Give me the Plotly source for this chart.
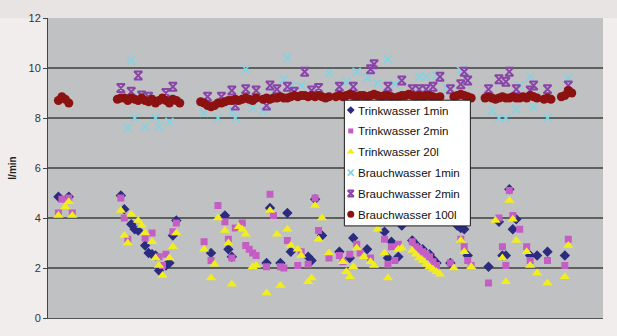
import plotly.graph_objects as go

# Messpunkte (laufende Nummer) und Durchfluss in l/min je Messreihe
t1_x = [3, 6,
        21, 22, 24, 25, 26, 28, 29, 30, 31, 32, 34, 35, 36, 37,
        47, 51, 52, 53, 63, 64, 67, 69, 70, 75, 76, 77, 79, 84, 87, 88, 92, 97, 98, 99, 101, 102,
        105, 106, 108, 110, 111, 112,
        116, 118, 119, 120, 121,
        127, 130, 131, 132, 133, 134, 135, 139, 141, 144, 149]
t1_y = [4.85, 4.85,
        4.9, 4.35, 3.75, 3.55, 3.5, 2.9, 2.6, 2.55, 2.5, 1.9, 2.1, 2.2, 3.3, 3.9,
        2.6, 4.1, 2.75, 2.45, 2.2, 4.4, 2.2, 4.2, 2.65, 2.45, 2.3, 4.75, 3.3, 2.65, 2.4, 3.2, 2.75, 3.45, 2.4, 3.05, 2.45, 3.7,
        3.1, 2.95, 2.75, 2.55, 2.35, 2.2,
        2.2, 3.7, 3.6, 3.55, 2.5,
        2.05, 3.85, 2.5, 2.5, 5.15, 3.55, 3.95, 2.5, 2.5, 2.65, 2.5]

t2_x = [3, 4, 6, 7,
        21, 22, 23, 28, 30, 32, 33, 34, 36, 37,
        45, 47, 49, 51, 52, 53, 54, 56, 57, 58, 59, 60,
        63, 64, 65, 67, 68, 69, 72, 73, 75, 77, 78, 81,
        84, 85, 87, 89, 90, 93, 97, 98, 99, 100, 101,
        105, 106, 107, 108, 109, 110, 111, 112,
        116, 119, 120, 121, 122,
        127, 130, 131, 132, 133, 134, 136, 138, 139, 144, 149, 150]
t2_y = [4.2, 4.75, 4.8, 4.2,
        4.8, 4.0, 3.15, 3.2, 3.4, 2.45, 2.1, 2.55, 3.45, 3.8,
        3.05, 2.3, 4.5, 3.85, 3.15, 2.4, 3.6, 3.8, 2.9, 2.75, 2.6, 2.5,
        2.05, 4.95, 4.1, 2.05, 2.0, 3.1, 2.1, 2.65, 2.15, 4.8, 3.5, 2.4,
        2.5, 2.25, 2.55, 2.95, 2.6, 2.4, 3.15, 2.15, 2.85, 2.3, 2.95,
        3.05, 2.85, 2.75, 2.65, 2.55, 2.45, 2.25, 2.1,
        2.2, 3.15, 2.85, 2.3, 2.1,
        1.4, 4.0, 2.85, 2.1, 5.1, 4.1, 3.55, 2.85, 2.3, 2.3, 2.1, 3.15]

t20_x = [3, 5, 6, 7,
         21, 22, 23, 24, 26, 27, 28, 30, 31, 32, 33, 35, 36, 37,
         45, 47, 48, 49, 51, 52, 53, 55, 56, 57, 59, 60,
         63, 64, 66, 67, 69, 70, 72, 73, 75, 76, 77, 78, 79, 81,
         85, 86, 87, 88, 89, 91, 93, 94, 95, 97, 98, 101, 102,
         105, 106, 107, 108, 109, 110, 111, 112, 113,
         117, 119, 120, 122,
         129, 131, 132, 133, 134, 135, 138, 139, 141, 144, 149, 150]
t20_y = [4.1, 4.45, 4.65, 4.1,
         4.3, 3.3, 3.0, 4.15, 3.9, 3.7, 3.4, 3.05, 2.4, 2.1, 1.7, 2.4, 2.85, 3.4,
         2.75, 1.6, 2.15, 4.0, 3.5, 3.0, 1.35, 3.65, 3.55, 3.35, 2.05, 2.1,
         1.0, 4.3, 3.35, 1.3, 3.55, 2.9, 2.75, 2.5, 1.45, 1.6, 4.5, 3.15, 4.0, 2.6,
         2.25, 1.85, 1.65, 2.05, 2.8, 2.45, 2.25, 2.1, 3.55, 2.6, 1.6, 2.75, 2.8,
         2.7, 2.55, 2.4, 2.3, 2.15, 2.05, 1.95, 1.85, 1.75,
         2.0, 3.1, 2.65, 2.05,
         3.9, 2.4, 1.45, 4.7, 3.95, 3.1, 2.65, 2.1, 1.8, 1.4, 1.65, 2.9]

b1_x = [23, 24, 25, 28, 31, 32, 35,
        22, 27, 30, 34, 37,
        45, 49, 53, 54, 57, 59, 63, 62,
        69, 68, 70, 73, 81, 84, 86, 89, 92, 95,
        98, 107, 109, 112, 119, 121,
        128, 130, 132, 135, 139, 140, 144, 150,
        65, 76, 100, 115, 136]
b1_y = [7.6, 10.3, 8.0, 7.65, 8.0, 7.65, 7.85,
        8.8, 8.85, 8.75, 8.8, 8.7,
        8.2, 8.0, 8.3, 8.0, 9.95, 8.4, 8.45, 8.3,
        10.4, 9.55, 9.3, 9.3, 9.8, 9.25, 9.45, 9.85, 9.6, 9.4,
        10.35, 9.65, 9.65, 9.7, 9.9, 9.5,
        8.3, 8.0, 8.0, 8.35, 9.65, 8.45, 8.0, 9.6,
        9.0, 9.1, 9.35, 9.2, 9.3]

b2_x = [21, 24, 26, 27, 29, 34, 36,
        46, 50, 53, 54, 57, 60,
        63, 64, 66, 69, 71, 74, 76, 78, 84, 88,
        93, 94, 98, 102, 105, 107, 109, 111, 113, 116, 119, 120, 121,
        127, 130, 132, 133, 135, 139, 140, 144, 150]
b2_y = [9.2, 9.05, 9.7, 8.9, 8.85, 9.0, 9.25,
        8.85, 8.85, 9.1, 8.5, 9.15, 9.1,
        8.5, 9.3, 9.15, 9.25, 9.05, 9.85, 9.1, 9.2, 9.25, 9.25,
        9.95, 10.15, 9.25, 9.5, 9.15, 9.15, 9.15, 9.25, 9.65, 9.15, 9.35, 9.85, 9.5,
        9.15, 9.55, 9.45, 9.85, 9.15, 9.1, 9.3, 9.15, 9.3]

b100_x = (list(range(3, 7)) + list(range(20, 39)) + list(range(44, 61)) + list(range(62, 82))
          + list(range(83, 114)) + list(range(117, 123)) + list(range(126, 142))
          + list(range(143, 146)) + list(range(148, 152)))
b100_y = ([8.7, 8.85, 8.75, 8.6]
          + [8.75, 8.8, 8.8, 8.7, 8.8, 8.75, 8.7, 8.8, 8.7, 8.65, 8.75, 8.6, 8.7, 8.8, 8.7, 8.6, 8.75, 8.7, 8.6]
          + [8.65, 8.6, 8.5, 8.45, 8.5, 8.6, 8.6, 8.65, 8.7, 8.7, 8.75, 8.7, 8.75, 8.8, 8.75, 8.7, 8.8]
          + [8.75, 8.8, 8.75, 8.8, 8.8, 8.85, 8.8, 8.8, 8.85, 8.9, 8.85, 8.9, 8.9, 8.85, 8.9, 8.85, 8.9, 8.85, 8.8, 8.85]
          + [8.85, 8.9, 8.85, 8.9, 8.95, 8.9, 8.85, 8.9, 8.9, 8.85, 8.9, 8.95, 8.9, 8.85, 8.9, 8.9,
             8.85, 8.8, 8.85, 8.9, 8.9, 8.95, 8.9, 8.85, 8.9, 8.85, 8.9, 8.9, 8.85, 8.8, 8.85]
          + [8.85, 8.9, 8.95, 8.9, 8.85, 8.8]
          + [8.8, 8.85, 8.8, 8.75, 8.8, 8.85, 8.8, 8.8, 8.85, 8.8, 8.8, 8.85, 8.8, 8.9, 8.85, 8.8]
          + [8.75, 8.8, 8.75]
          + [8.85, 8.9, 9.1, 9.0])

y_ticks = [0, 2, 4, 6, 8, 10, 12]
grid_values = [2, 4, 6, 8, 10]

NAVY, PINK, YELLOW = "#2b2b80", "#c45ec4", "#f2ee1e"
CYAN, PURPLE, MAROON = "#7fd4e4", "#8a44a8", "#8c1212"

series = [
    ("Trinkwasser 1min", t1_x, t1_y, dict(symbol="diamond", color=NAVY), 8),
    ("Trinkwasser 2min", t2_x, t2_y, dict(symbol="square", color=PINK), 7),
    ("Trinkwasser 20l", t20_x, t20_y, dict(symbol="triangle-up", color=YELLOW), 9),
    ("Brauchwasser 1min", b1_x, b1_y,
     dict(symbol="x-thin-open", color=CYAN, line=dict(width=1.7, color=CYAN)), 8),
    ("Brauchwasser 2min", b2_x, b2_y,
     dict(symbol="hourglass-open", color=PURPLE, line=dict(width=1.8, color=PURPLE)), 8),
    ("Brauchwasser 100l", b100_x, b100_y, dict(symbol="circle", color=MAROON), 9),
]

fig = go.Figure()
for name, xs, ys, marker, size in series:
    fig.add_trace(go.Scatter(x=xs, y=ys, mode="markers", name=name,
                             marker=dict(marker, size=size), showlegend=False))

for g in grid_values:
    fig.add_shape(type="line", xref="paper", yref="y", x0=0, x1=1, y0=g, y1=g,
                  line=dict(color="#3c3c3c", width=1.6), layer="below")

# Legend box drawn on an overlay axis spanning the plot area (0..1 in both directions)
box_left, box_right, box_top, box_bottom = 0.534, 0.761, 0.726, 0.307
first_row, row_step = 0.693, 0.0695
sym_x, text_x = 0.5455, 0.5555

fig.add_trace(go.Scatter(
    x=[box_left, box_right, box_right, box_left, box_left],
    y=[box_bottom, box_bottom, box_top, box_top, box_bottom],
    xaxis="x2", yaxis="y2", mode="lines", fill="toself", fillcolor="#ffffff",
    line=dict(color="#1a1a1a", width=1), hoverinfo="skip", showlegend=False))

for i, (name, xs, ys, marker, size) in enumerate(series):
    row_y = first_row - i * row_step
    fig.add_trace(go.Scatter(
        x=[sym_x], y=[row_y], xaxis="x2", yaxis="y2", mode="markers",
        marker=dict(marker, size=max(size - 2, 5)), hoverinfo="skip", showlegend=False))
    fig.add_annotation(x=text_x, y=row_y, xref="x2", yref="y2", text=name,
                       showarrow=False, xanchor="left", yanchor="middle",
                       font=dict(size=11.6, color="#111111"))

fig.update_layout(
    width=617, height=336,
    margin=dict(l=45, r=14, t=17, b=16),
    paper_bgcolor="#f1eded",
    plot_bgcolor="#c0c1c3",
    font=dict(family="Arial, Liberation Sans, sans-serif", size=11, color="#222222"),
    showlegend=False,
    xaxis=dict(range=[0, 160], showticklabels=False, showgrid=False, zeroline=False,
               ticks="", showline=True, linecolor="#555555", linewidth=1),
    yaxis=dict(range=[0, 12], tickvals=y_ticks, showgrid=False, zeroline=False,
               ticks="outside", ticklen=4, tickcolor="#444444",
               showline=True, linecolor="#444444", linewidth=1,
               tickfont=dict(size=11, color="#333333"),
               title=dict(text="<b>l/min</b>", font=dict(size=10, color="#222222"), standoff=10)),
    xaxis2=dict(range=[0, 1], overlaying="x", visible=False, fixedrange=True),
    yaxis2=dict(range=[0, 1], overlaying="y", visible=False, fixedrange=True),
)

fig.add_shape(type="rect", xref="paper", yref="paper", x0=-0.1, x1=1.1, y0=1.0, y1=1.06,
              fillcolor="#e8e4e4", line=dict(width=0), layer="below")

fig.write_html("out.html")
